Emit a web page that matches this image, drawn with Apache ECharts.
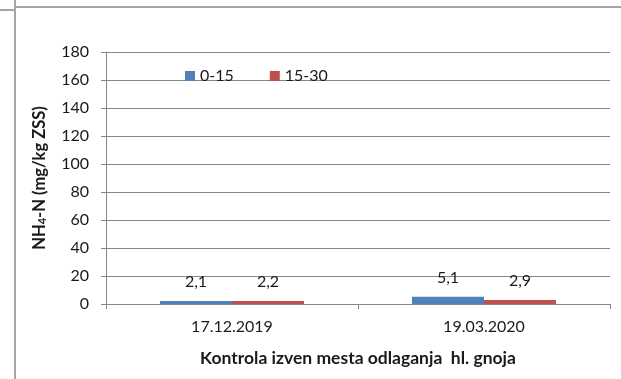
<!DOCTYPE html>
<html>
<head>
<meta charset="utf-8">
<script src="https://cdn.jsdelivr.net/npm/echarts@6/dist/echarts.min.js"></script>
<style>
  html, body { margin: 0; padding: 0; background: #fff; }
  #chart { width: 621px; height: 379px; }
</style>
</head>
<body>
<div id="chart"></div>
<script>
// Sampling dates and NH4-N content per soil depth layer
const categories = ['17.12.2019', '19.03.2020'];
const depth0to15 = [2.1, 5.1];
const depth15to30 = [2.2, 2.9];
const seriesNames = ['0-15', '15-30'];
const yTicks = { min: 0, max: 180, interval: 20 };

const FONT = 'Lato, "Liberation Sans", sans-serif';
const TEXT = '#1a1a1a';

const chart = echarts.init(document.getElementById('chart'));

const labelCfg = {
  show: true,
  position: 'top',
  distance: 11,
  color: TEXT,
  fontFamily: FONT,
  fontSize: 16,
  formatter: p => String(p.value).replace('.', ',')
};

chart.setOption({
  animation: false,
  textStyle: { fontFamily: FONT },
  graphic: [
    // frame lines around the chart area
    { type: 'line', shape: { x1: 15, y1: 0, x2: 15, y2: 379 }, style: { stroke: '#a6a6a6', lineWidth: 2 } },
    { type: 'line', shape: { x1: 15, y1: 7, x2: 621, y2: 7 }, style: { stroke: '#a6a6a6', lineWidth: 2 } },
    { type: 'line', shape: { x1: 0, y1: 10, x2: 15, y2: 10 }, style: { stroke: '#a6a6a6', lineWidth: 2 } }
  ],
  legend: {
    left: 180,
    top: 63,
    itemWidth: 10,
    itemHeight: 10,
    itemGap: 36,
    icon: 'rect',
    textStyle: { color: TEXT, fontSize: 16, fontFamily: FONT },
    data: seriesNames
  },
  grid: { left: 106, right: 11, top: 52, bottom: 75 },
  xAxis: {
    type: 'category',
    data: categories,
    axisLine: { lineStyle: { color: '#868686', width: 1 } },
    axisTick: { show: true, alignWithLabel: false, length: 5, lineStyle: { color: '#868686' } },
    axisLabel: { color: TEXT, fontSize: 16, fontFamily: FONT, margin: 15 },
    name: 'Kontrola izven mesta odlaganja  hl. gnoja',
    nameLocation: 'middle',
    nameGap: 45,
    nameTextStyle: { color: TEXT, fontSize: 17.5, fontWeight: 'bold', fontFamily: FONT }
  },
  yAxis: {
    type: 'value',
    min: yTicks.min,
    max: yTicks.max,
    interval: yTicks.interval,
    axisLine: { show: true, lineStyle: { color: '#868686' } },
    axisTick: { show: true, length: 5, lineStyle: { color: '#868686' } },
    axisLabel: { color: TEXT, fontSize: 16, fontFamily: FONT, margin: 17 },
    splitLine: { lineStyle: { color: '#868686', width: 1 } },
    name: '{a|NH}{s|4}{a|-N (mg/kg ZSS)}',
    nameLocation: 'middle',
    nameGap: 58,
    nameRotate: 90,
    nameTextStyle: {
      rich: {
        a: { color: TEXT, fontSize: 16.5, fontWeight: 'bold', fontFamily: FONT },
        s: { color: TEXT, fontSize: 11, fontWeight: 'bold', fontFamily: FONT, verticalAlign: 'bottom', padding: [6, 0, 0, 0] }
      }
    }
  },
  series: [
    {
      name: seriesNames[0],
      type: 'bar',
      data: depth0to15,
      barWidth: 72,
      barGap: '0%',
      itemStyle: { color: '#4F81BD' },
      label: labelCfg
    },
    {
      name: seriesNames[1],
      type: 'bar',
      data: depth15to30,
      barWidth: 72,
      barGap: '0%',
      itemStyle: { color: '#C0504D' },
      label: labelCfg
    }
  ]
});
</script>
</body>
</html>
